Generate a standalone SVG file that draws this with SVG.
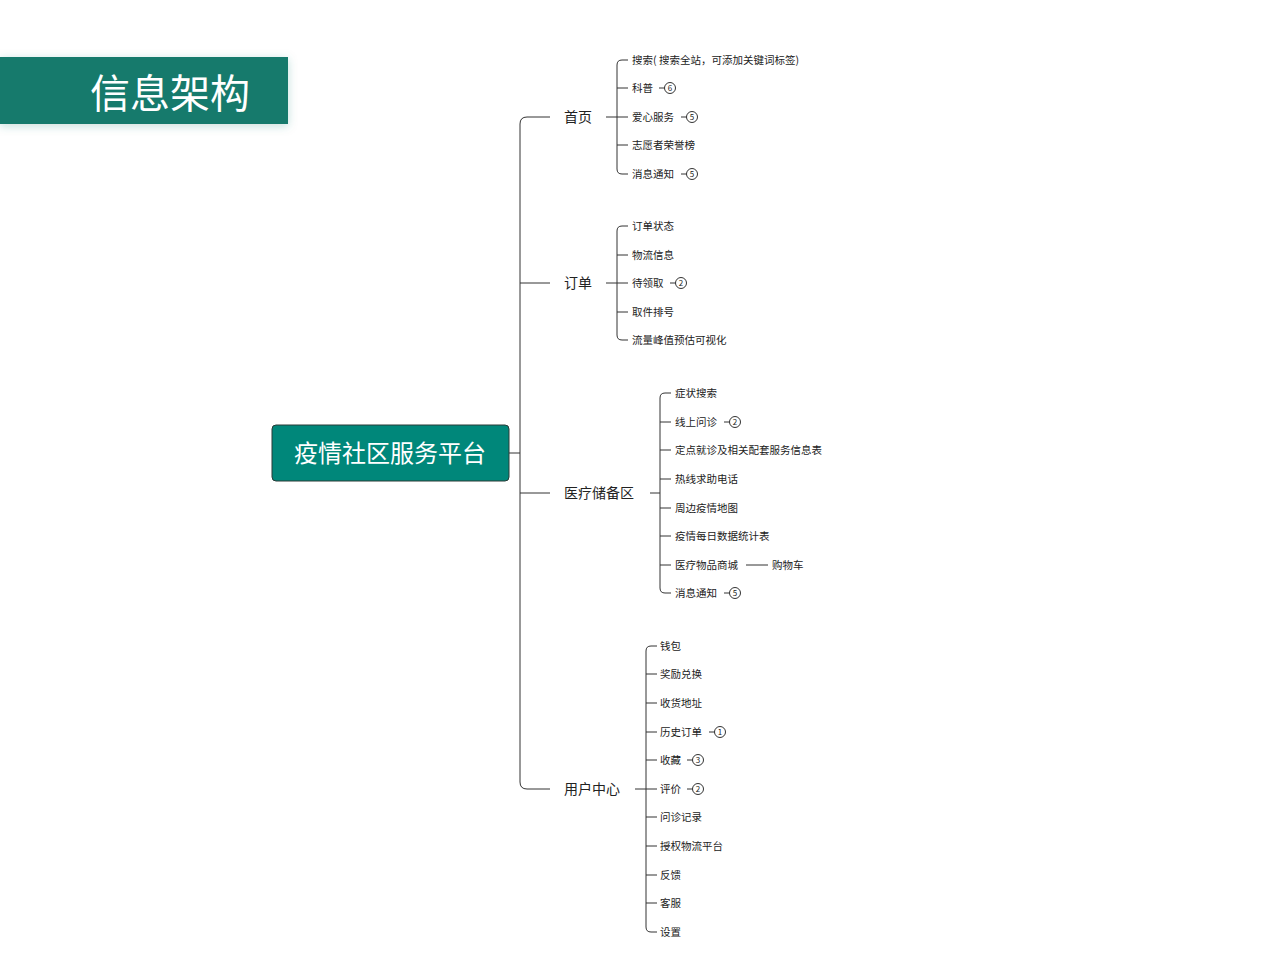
<svg xmlns="http://www.w3.org/2000/svg" width="1280" height="968" viewBox="0 0 1280 968">
<defs>
<style>
text{font-family:"Noto Sans CJK SC","Noto Sans",sans-serif;fill:#222}
.l1{font-size:14px}
.l2{font-size:10.5px}
.c{fill:none;stroke:#333;stroke-width:1}
.b{font-size:8px;text-anchor:middle}
</style>
<filter id="sh" x="-20%" y="-40%" width="140%" height="180%"><feDropShadow dx="0" dy="2" stdDeviation="5" flood-color="#177a6c" flood-opacity="0.25"/></filter>
</defs>
<rect width="1280" height="968" fill="#fff"/>
<g id="title"><rect x="0" y="57" width="288" height="67" fill="#177a6c" filter="url(#sh)"/><text x="170" y="108" font-size="40" text-anchor="middle" style="fill:#fff">信息架构</text></g>
<g id="root"><rect x="272" y="425" width="237" height="56" rx="4" fill="#00877a" stroke="#2a3a36"/><text x="390" y="462" font-size="24" text-anchor="middle" style="fill:#fff">疫情社区服务平台</text></g>
<g id="connectors">
<path class="c" d="M509 453H520M550 117H527Q520 117 520 124V782Q520 789 527 789H550M520 283H550M520 493H550"/>
<path class="c" d="M606 117H628M628 60H622Q617 60 617 65V169Q617 174 622 174H628M617 88H628M617 145H628"/>
<path class="c" d="M606 283H628M628 226H622Q617 226 617 231V335Q617 340 622 340H628M617 255H628M617 312H628"/>
<path class="c" d="M650 493H660M671 393H665Q660 393 660 398V588Q660 593 665 593H671M660 422H671M660 450H671M660 479H671M660 508H671M660 536H671M660 565H671"/>
<path class="c" d="M635 789H657M657 646H651Q646 646 646 651V927Q646 932 651 932H657M646 674H657M646 703H657M646 732H657M646 760H657M646 817H657M646 846H657M646 875H657M646 903H657"/>
<path class="c" d="M659 88H665M681 117H687M681 174H687M670 283H676M724 422H730M724 593H730M709 732H715M687 760H693M687 789H693M746 565H768"/>
<g fill="#fff" stroke="#333">
<circle cx="670" cy="88" r="5.5"/><circle cx="692" cy="117" r="5.5"/><circle cx="692" cy="174" r="5.5"/><circle cx="681" cy="283" r="5.5"/><circle cx="735" cy="422" r="5.5"/><circle cx="735" cy="593" r="5.5"/><circle cx="720" cy="732" r="5.5"/><circle cx="698" cy="760" r="5.5"/><circle cx="698" cy="789" r="5.5"/>
</g>
<g class="b"><text class="b" x="670" y="91">6</text><text class="b" x="692" y="120">5</text><text class="b" x="692" y="177">5</text><text class="b" x="681" y="286">2</text><text class="b" x="735" y="425">2</text><text class="b" x="735" y="596">5</text><text class="b" x="720" y="735">1</text><text class="b" x="698" y="763">3</text><text class="b" x="698" y="792">2</text></g>
</g>
<g id="n-home"><text class="l1" x="564" y="122">首页</text>
<text class="l2" x="632" y="64">搜索( 搜索全站，可添加关键词标签)</text><text class="l2" x="632" y="92">科普</text><text class="l2" x="632" y="121">爱心服务</text><text class="l2" x="632" y="149">志愿者荣誉榜</text><text class="l2" x="632" y="178">消息通知</text></g>
<g id="n-order"><text class="l1" x="564" y="288">订单</text>
<text class="l2" x="632" y="230">订单状态</text><text class="l2" x="632" y="259">物流信息</text><text class="l2" x="632" y="287">待领取</text><text class="l2" x="632" y="316">取件排号</text><text class="l2" x="632" y="344">流量峰值预估可视化</text></g>
<g id="n-med"><text class="l1" x="564" y="498">医疗储备区</text>
<text class="l2" x="675" y="397">症状搜索</text><text class="l2" x="675" y="426">线上问诊</text><text class="l2" x="675" y="454">定点就诊及相关配套服务信息表</text><text class="l2" x="675" y="483">热线求助电话</text><text class="l2" x="675" y="512">周边疫情地图</text><text class="l2" x="675" y="540">疫情每日数据统计表</text><text class="l2" x="675" y="569">医疗物品商城</text><text class="l2" x="772" y="569">购物车</text><text class="l2" x="675" y="597">消息通知</text></g>
<g id="n-user"><text class="l1" x="564" y="794">用户中心</text>
<text class="l2" x="660" y="650">钱包</text><text class="l2" x="660" y="678">奖励兑换</text><text class="l2" x="660" y="707">收货地址</text><text class="l2" x="660" y="736">历史订单</text><text class="l2" x="660" y="764">收藏</text><text class="l2" x="660" y="793">评价</text><text class="l2" x="660" y="821">问诊记录</text><text class="l2" x="660" y="850">授权物流平台</text><text class="l2" x="660" y="879">反馈</text><text class="l2" x="660" y="907">客服</text><text class="l2" x="660" y="936">设置</text></g>
</svg>
